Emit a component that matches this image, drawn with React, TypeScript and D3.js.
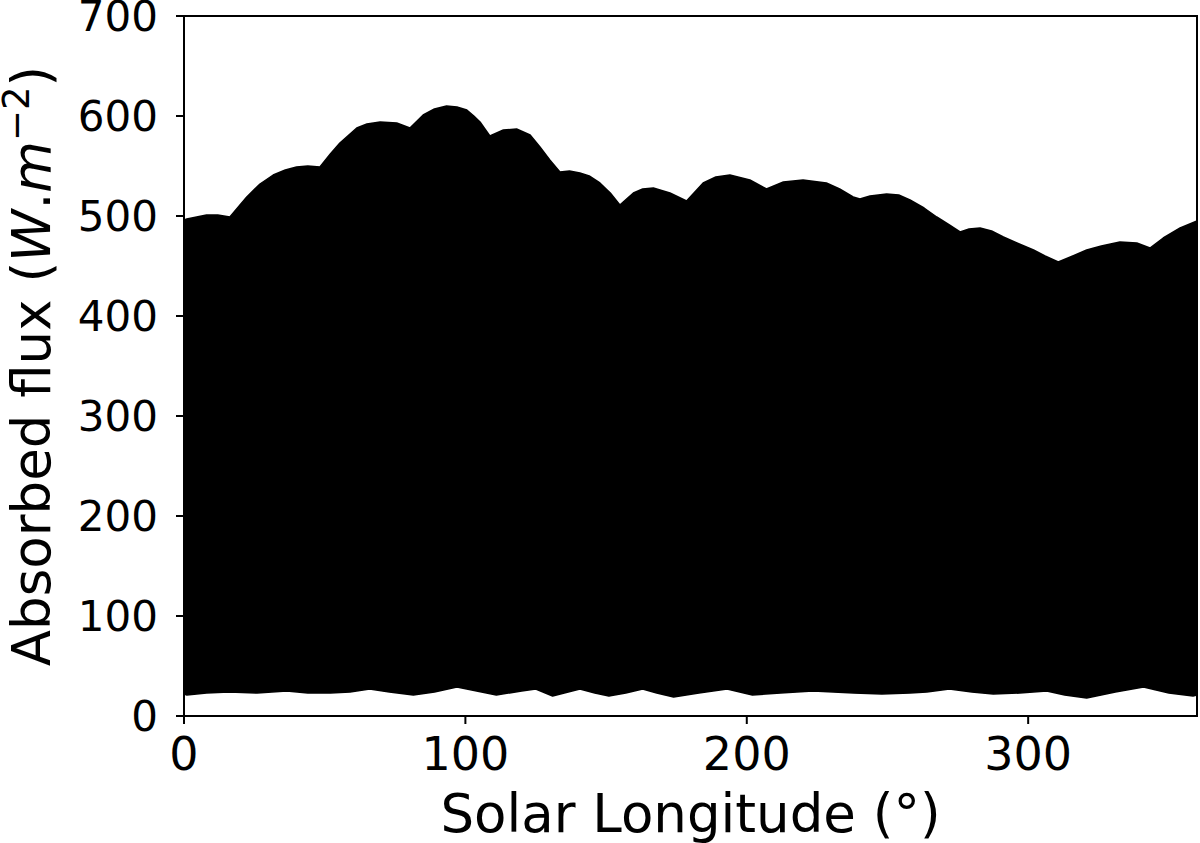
import React from "react";
import * as d3 from "d3";

// Upper envelope of the absorbed flux (W.m^-2) vs solar longitude (deg)
const upperLs = [0, 1, 8, 12, 16.3, 22.3, 27, 31.7, 36, 40, 44, 48.3, 52, 55.4, 61.4, 65, 69.7, 75.6, 80.3, 85, 89, 93.3, 97, 100.5, 103, 105.2, 108.7, 113.5, 118.2, 123, 126.5, 130, 133.6, 137, 140.7, 144, 147.8, 151.5, 154.9, 159.7, 163, 166.8, 172.7, 178.6, 184.5, 189, 194, 201.1, 207, 213, 220, 228.3, 233, 237.8, 240.2, 243.8, 249.7, 254, 258, 263, 267.5, 272, 275.8, 279, 282.9, 287, 291.2, 296, 301.9, 306, 310.7, 315, 320.8, 326, 332.6, 338.6, 343.3, 348, 354, 360];
const upperFlux = [496, 497, 501, 501, 499, 519, 532, 541, 546, 549, 550, 549, 562, 573, 588, 592, 594, 593, 588, 601, 607, 610, 609, 606, 600, 594, 580, 586, 587, 581, 569, 556, 544, 545, 543, 540, 533, 523, 511, 523, 527, 528, 523, 515, 533, 539, 541, 536, 527, 534, 536, 533, 527, 519, 517, 520, 522, 521, 516, 508, 499, 491, 484, 487, 488, 485, 479, 473, 466, 460, 454, 459, 466, 470, 474, 473, 468, 478, 488, 495];

// Lower envelope
const lowerLs = [0, 1, 8, 16, 26, 36.5, 44, 52, 59, 66, 73, 81.5, 89, 97, 104, 111, 120, 125, 131, 140.7, 146, 151, 157, 163, 168, 174, 183, 193, 202, 212, 223.5, 238, 248, 258, 264, 272, 280, 287.6, 297, 306.6, 313, 320.8, 331, 341, 350, 358.6, 360];
const lowerFlux = [22, 21, 23, 24, 23, 25, 23, 23, 24, 27, 24, 21, 24, 29, 25, 21, 25, 27, 20, 27, 23, 20, 23, 27, 23, 19, 23, 27, 21, 23, 25, 23, 22, 23, 24, 27, 24, 22, 23, 25, 21, 18, 24, 29, 23, 20, 21];

const xTicks = [0, 100, 200, 300];
const yTicks = [0, 100, 200, 300, 400, 500, 600, 700];

const W = 1200;
const H = 843;
const left = 184;
const right = 1197;
const top = 16;
const bottom = 716;
const font = "'DejaVu Sans', sans-serif";

export default function App() {
  const x = d3.scaleLinear().domain([0, 360]).range([left, right]);
  const y = d3.scaleLinear().domain([0, 700]).range([bottom, top]);

  const upper = upperLs.map((l, i) => [x(l), y(upperFlux[i])] as [number, number]);
  const lower = lowerLs.map((l, i) => [x(l), y(lowerFlux[i])] as [number, number]);
  const line = d3.line().curve(d3.curveLinear);
  const upPath = line(upper) as string;
  const lowRev = line(lower.slice().reverse()) as string;
  const pathD = upPath + "L" + lowRev.slice(1) + "Z";

  return (
    <svg width={W} height={H} style={{ position: "absolute", left: 0, top: 0, background: "#fff" }}>
      <defs>
        <clipPath id="plot">
          <rect x={left} y={top} width={right - left} height={bottom - top} />
        </clipPath>
      </defs>
      <g clipPath="url(#plot)">
        <path d={pathD} fill="#000" stroke="#000" strokeWidth={1.5} strokeLinejoin="round" />
      </g>
      {/* frame */}
      <rect x={left} y={top} width={right - left} height={bottom - top} fill="none" stroke="#000" strokeWidth={2} />
      {/* x ticks */}
      {xTicks.map((t) => (
        <g key={"x" + t}>
          <line x1={x(t)} x2={x(t)} y1={bottom} y2={bottom + 8} stroke="#000" strokeWidth={2} />
          <text x={x(t)} y={770} fontFamily={font} fontSize={46} textAnchor="middle" fill="#000">
            {t}
          </text>
        </g>
      ))}
      {/* y ticks */}
      {yTicks.map((t) => (
        <g key={"y" + t}>
          <line x1={left - 8} x2={left} y1={y(t)} y2={y(t)} stroke="#000" strokeWidth={2} />
          <text x={158} y={y(t)} dy="0.36em" fontFamily={font} fontSize={42} textAnchor="end" fill="#000">
            {t}
          </text>
        </g>
      ))}
      {/* x label */}
      <text x={(left + right) / 2} y={832} fontFamily={font} fontSize={53} textAnchor="middle" fill="#000">
        Solar Longitude (°)
      </text>
      {/* y label */}
      <text
        transform={`translate(50, 366) rotate(-90)`}
        fontFamily={font}
        fontSize={53}
        textAnchor="middle"
        fill="#000"
      >
        Absorbed flux (<tspan fontStyle="italic">W</tspan>.<tspan fontStyle="italic">m</tspan>
        <tspan fontSize={37} dy={-21}>−2</tspan>
        <tspan dy={21}>)</tspan>
      </text>
    </svg>
  );
}
